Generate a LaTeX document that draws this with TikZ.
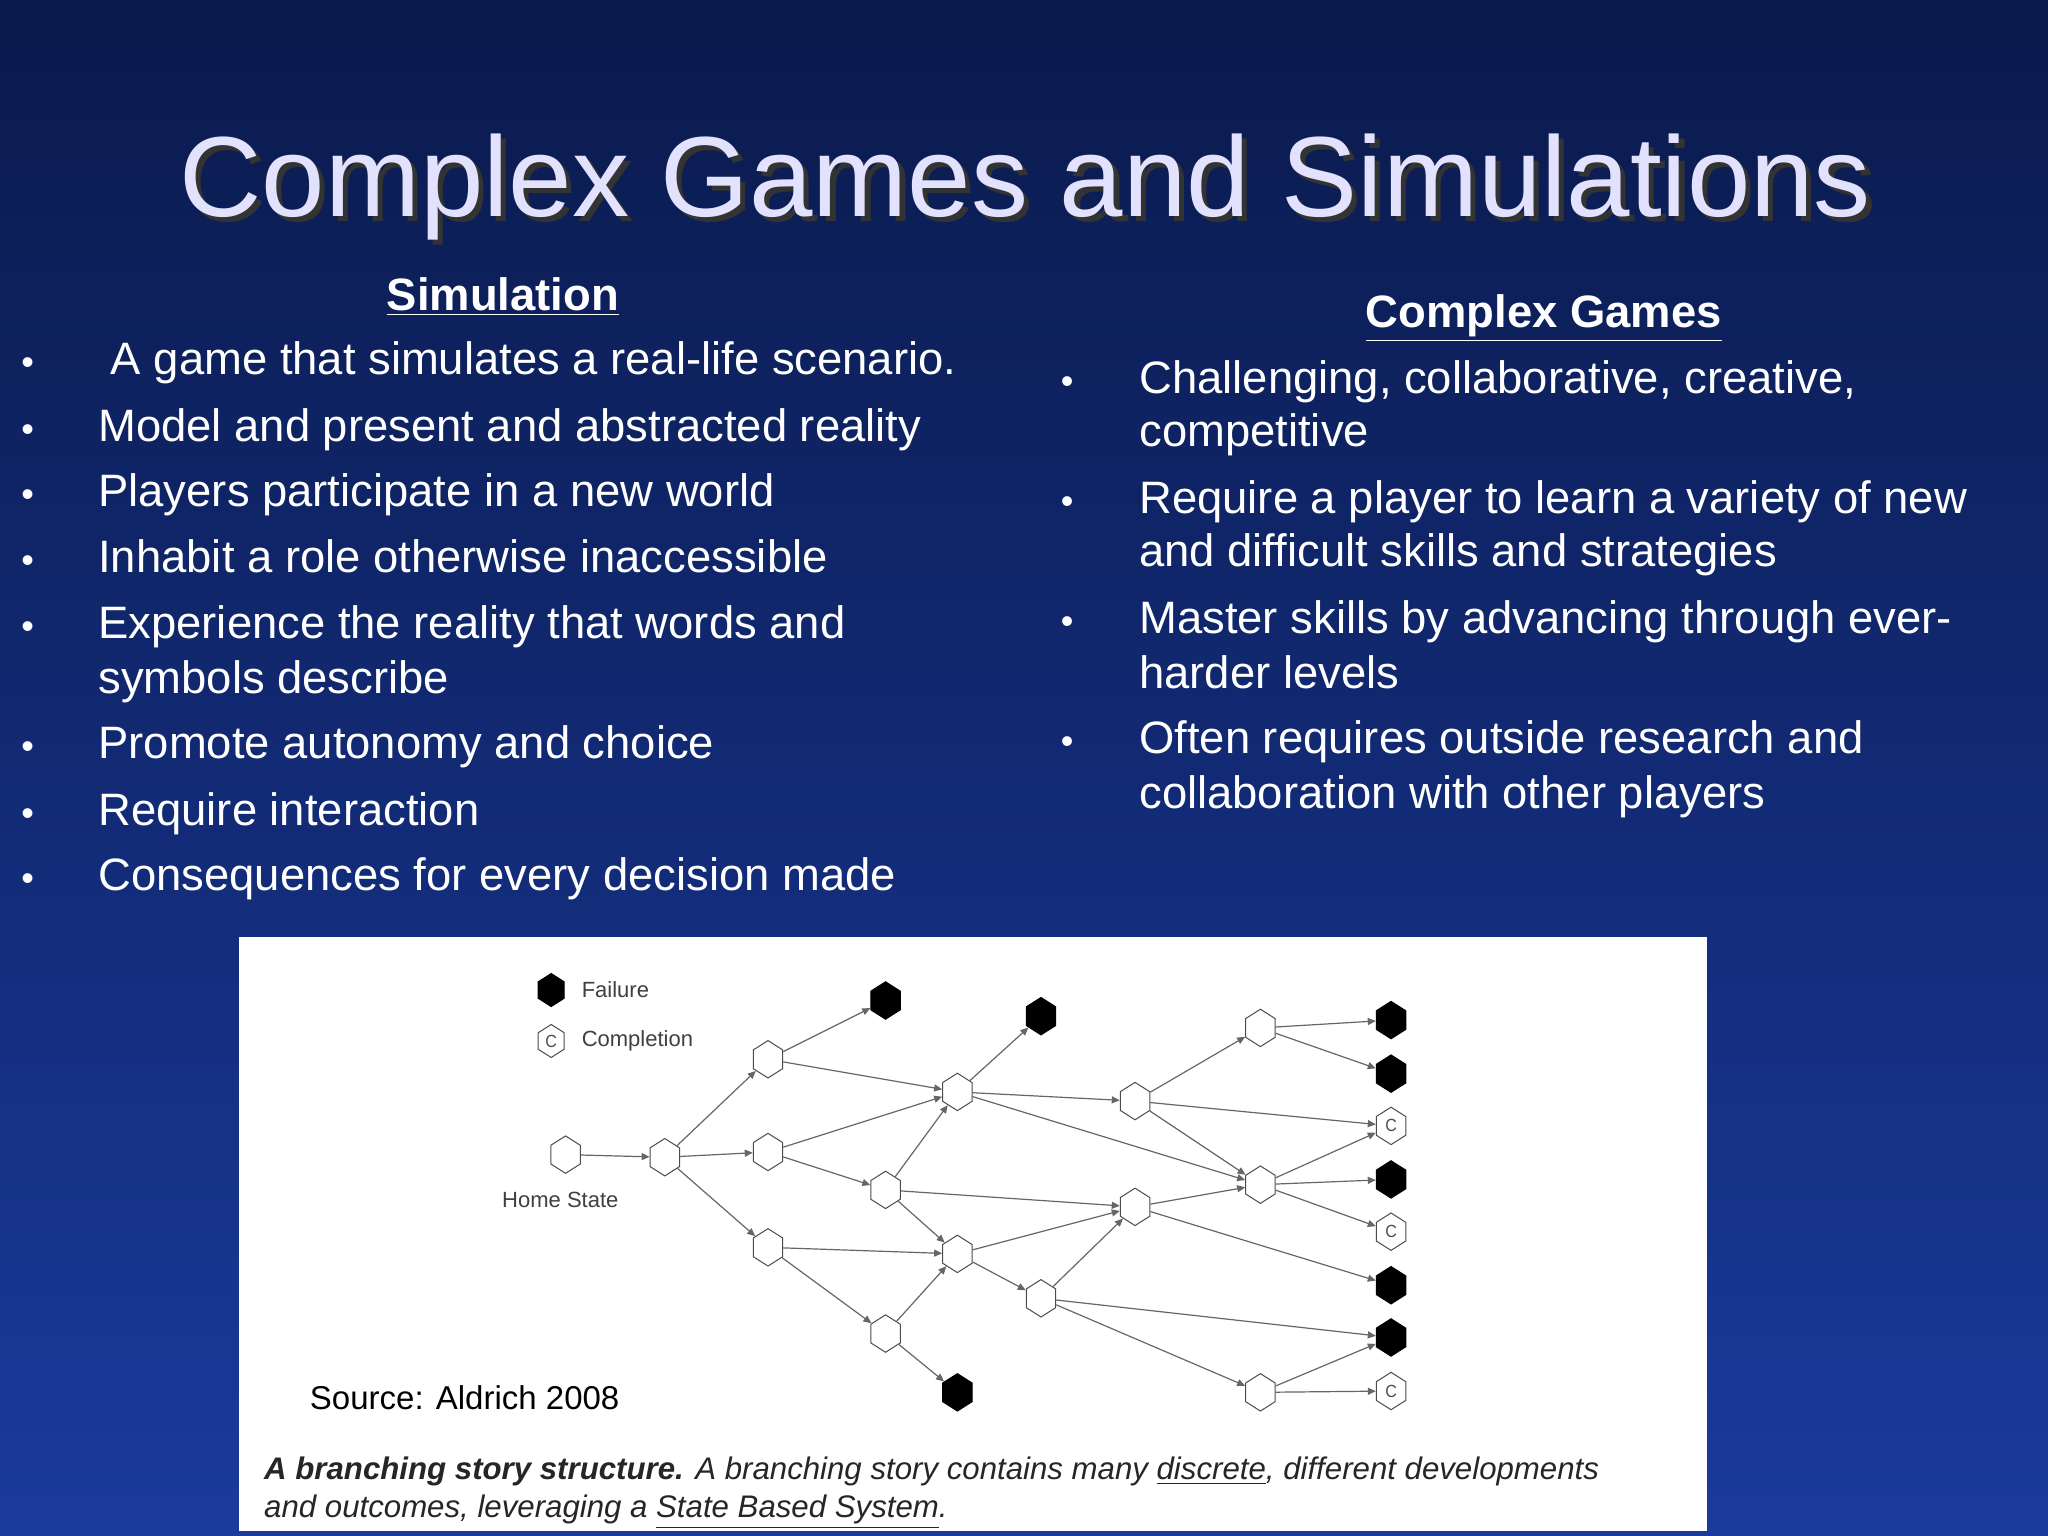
\documentclass[tikz,border=0pt]{standalone}
\usepackage{fontspec}
\setmainfont{Liberation Sans}
\usetikzlibrary{shapes.geometric,arrows.meta,shadows}
\definecolor{bgtop}{HTML}{0A1A4C}
\definecolor{bgbot}{HTML}{1A3A9C}
\definecolor{titlec}{HTML}{E2E2FF}
\begin{document}
\begin{tikzpicture}[x=0.653pt,y=-0.653pt,
  hexw/.style={regular polygon,regular polygon sides=6,shape border rotate=30,draw=black!70,fill=white,line width=0.5pt,minimum size=17pt,inner sep=0pt,yscale=1.1},
  hexf/.style={hexw,fill=black,draw=black},
  hexc/.style={hexw,font=\fontsize{8}{8}\selectfont,text=black!70},
  ed/.style={-{Triangle[length=4pt,width=3.5pt]},draw=black!60,line width=0.6pt},
  body/.style={anchor=base west,inner sep=0pt,text=white,font=\fontsize{22.7}{25}\selectfont},
  bul/.style={anchor=base west,inner sep=0pt,text=white,font=\fontsize{18}{20}\selectfont}]
\shade[top color=bgtop,bottom color=bgbot] (0,0) rectangle (1568,1176);
\useasboundingbox (0,0) rectangle (1568,1176);
% title
\node[text=black!80,font=\fontsize{57}{57}\selectfont] at (789,147) {Complex Games and Simulations};
\node (title)[text=titlec,font=\fontsize{57}{57}\selectfont] at (785,143) {Complex Games and Simulations};
% left column
\node (lh)[anchor=base,inner sep=0pt,text=white,font=\fontsize{22.7}{25}\selectfont\bfseries] at (385,238) {\underline{Simulation}};
\foreach \y/\t in {287/{\ A game that simulates a real-life scenario.},338/Model and present and abstracted reality,388/Players participate in a new world,438/Inhabit a role otherwise inaccessible,489/Experience the reality that words and,581/Promote autonomy and choice,632/Require interaction,682/Consequences for every decision made}{
  \node[bul] at (16,\y) {•};
  \node[body] at (75,\y) {\t};}
\node[body] at (75,531) {symbols describe};
% right column
\node (rh)[anchor=base,inner sep=0pt,text=white,font=\fontsize{22.7}{25}\selectfont\bfseries] at (1182,251) {\underline{Complex Games}};
\foreach \y in {301,393,485,577}{\node[bul] at (812,\y) {•};}
\node[body] at (872,301) {Challenging, collaborative, creative,};
\node[body] at (872,342) {competitive};
\node[body] at (872,393) {Require a player to learn a variety of new};
\node[body] at (872,434) {and difficult skills and strategies};
\node[body] at (872,485) {Master skills by advancing through ever-};
\node[body] at (872,527) {harder levels};
\node[body] at (872,577) {Often requires outside research and};
\node[body] at (872,619) {collaboration with other players};
% image panel
\fill[white] (183,717) rectangle (1307,1172);
\node (src)[anchor=base west,inner sep=0pt,font=\fontsize{16.5}{20}\selectfont] at (237,1079) {Source: Aldrich 2008};
\node (cap)[anchor=base west,inner sep=0pt,font=\fontsize{15.6}{18}\selectfont\itshape,text=black!85] at (202,1133) {\textbf{A branching story structure.} A branching story contains many \underline{discrete}, different developments};
\node[anchor=base west,inner sep=0pt,font=\fontsize{15.6}{18}\selectfont\itshape,text=black!85] at (202,1162) {and outcomes, leveraging a \underline{State Based System}.};
% legend
\node (lf)[hexf,minimum size=15pt] at (422,758) {};
\node[anchor=west,font=\fontsize{11}{12}\selectfont,text=black!75] at (440,758) {Failure};
\node (lc)[hexc,minimum size=15pt] at (422,797) {C};
\node[anchor=west,font=\fontsize{11}{12}\selectfont,text=black!75] at (440,797) {Completion};
\node[font=\fontsize{11}{12}\selectfont,text=black!75] at (429,919) {Home State};
% nodes
\node (home)[hexw] at (433,884) {};
\node (n1)[hexw] at (509,886) {};
\node (a)[hexw] at (588,811) {};
\node (b)[hexw] at (588,882) {};
\node (c)[hexw] at (588,955) {};
\node (fa)[hexf] at (678,766) {};
\node (d)[hexw] at (678,911) {};
\node (e)[hexw] at (678,1021) {};
\node (fb)[hexf] at (733,1066) {};
\node (f)[hexw] at (733,836) {};
\node (g)[hexw] at (733,960) {};
\node (fc)[hexf] at (797,778) {};
\node (h)[hexw] at (869,843) {};
\node (i)[hexw] at (869,924) {};
\node (j)[hexw] at (797,994) {};
\node (k)[hexw] at (965,787) {};
\node (l)[hexw] at (965,907) {};
\node (m)[hexw] at (965,1066) {};
\node (r1)[hexf] at (1065,781) {};
\node (r2)[hexf] at (1065,822) {};
\node (r3)[hexc] at (1065,862) {C};
\node (r4)[hexf] at (1065,903) {};
\node (r5)[hexc] at (1065,943) {C};
\node (r6)[hexf] at (1065,984) {};
\node (r7)[hexf] at (1065,1024) {};
\node (r8)[hexc] at (1065,1065) {C};
% edges
\foreach \s/\t in {home/n1,n1/a,n1/b,n1/c,a/fa,a/f,b/f,b/d,c/g,c/e,d/f,d/i,d/g,e/g,e/fb,f/fc,f/h,f/l,g/i,g/j,j/i,j/r7,j/m,h/k,h/r3,h/l,i/l,i/r6,k/r1,k/r2,l/r3,l/r4,l/r5,m/r7,m/r8}
  \draw[ed] (\s) -- (\t);
\end{tikzpicture}
\end{document}
